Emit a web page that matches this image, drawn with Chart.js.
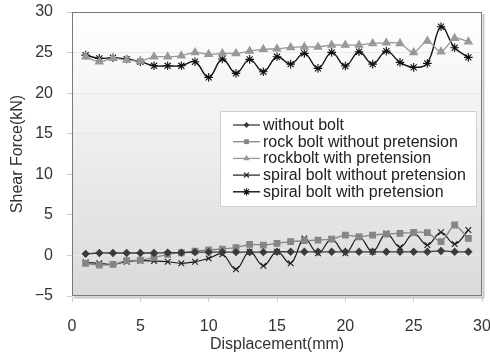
<!DOCTYPE html>
<html>
<head>
<meta charset="utf-8">
<script src="https://cdn.jsdelivr.net/npm/chart.js@4.4.1/dist/chart.umd.min.js"></script>
<style>
  html, body { margin: 0; padding: 0; background: #fff; }
  #wrap { width: 490px; height: 356px; position: relative; }
</style>
</head>
<body>
<div id="wrap"><canvas id="c" width="490" height="356"></canvas></div>
<script>
// ---- data ----
const displacement = [1,2,3,4,5,6,7,8,9,10,11,12,13,14,15,16,17,18,19,20,21,22,23,24,25,26,27,28,29];
const withoutBolt = [0.2,0.3,0.3,0.3,0.3,0.3,0.35,0.35,0.4,0.4,0.4,0.4,0.4,0.4,0.45,0.45,0.45,0.45,0.45,0.45,0.45,0.45,0.45,0.45,0.45,0.45,0.55,0.45,0.45];
const rockBoltNoPre = [-0.97,-1.18,-1.1,-0.65,-0.57,-0.28,0.14,0.33,0.54,0.67,0.79,0.95,1.37,1.28,1.49,1.69,1.81,1.9,2.02,2.51,2.3,2.51,2.64,2.72,2.85,2.8,1.69,3.75,2.1];
const rockBoltPre = [24.48,23.87,24.29,24.08,23.95,24.48,24.48,24.6,25.02,24.78,24.9,24.9,25.18,25.4,25.47,25.64,25.7,25.7,25.92,25.92,25.92,26.13,26.2,26.13,25.02,26.42,25.1,26.75,26.33];
const spiralNoPre = [-0.85,-0.97,-1.1,-0.78,-0.65,-0.69,-0.78,-0.97,-0.78,-0.36,0.14,-1.71,0.46,-1.27,0.46,-0.97,2.1,0.26,2.02,0.26,2.3,0.46,2.72,1.0,2.72,1.28,2.85,1.4,3.13];
const spiralPre = [24.69,24.29,24.36,24.2,23.87,23.37,23.37,23.37,23.87,21.94,24.2,22.44,24.16,22.63,24.48,23.58,24.9,23.05,25.02,23.34,25.1,23.58,25.18,23.79,23.18,23.67,28.18,25.59,24.41];
const seriesNames = ['without bolt','rock bolt without pretension','rockbolt with pretension','spiral bolt without pretension','spiral bolt with pretension'];
const xTicks = [0,5,10,15,20,25,30];
const yTicks = [-5,0,5,10,15,20,25,30];

const FONT = '"Liberation Sans", Arial, sans-serif';
const toXY = arr => arr.map((v, i) => ({x: displacement[i], y: v}));

const styles = [
  {color:'#3a3a3a', pointStyle:'rectRot', radius:3.4, width:1.3, tension:0.2},
  {color:'#858585', pointStyle:'rect', radius:4.0, width:1.3, tension:0.2},
  {color:'#989898', pointStyle:'triangle', radius:4.4, width:1.3, tension:0.3},
  {color:'#1a1a1a', pointStyle:'crossRot', radius:4.0, width:1.2, tension:0.4},
  {color:'#111111', pointStyle:'star', radius:4.3, width:1.4, tension:0.4}
];
const seriesData = [withoutBolt, rockBoltNoPre, rockBoltPre, spiralNoPre, spiralPre];

const datasets = seriesData.map((arr, i) => ({
  label: seriesNames[i],
  data: toXY(arr),
  borderColor: styles[i].color,
  backgroundColor: styles[i].color,
  borderWidth: styles[i].width,
  pointStyle: styles[i].pointStyle,
  pointRadius: styles[i].radius,
  pointBorderWidth: 1.1,
  pointBorderColor: styles[i].color,
  pointBackgroundColor: styles[i].color,
  tension: styles[i].tension,
  fill: false
}));

function drawMarker(ctx, style, x, y, r, color) {
  ctx.save();
  ctx.fillStyle = color; ctx.strokeStyle = color; ctx.lineWidth = 1.1;
  ctx.beginPath();
  if (style === 'rectRot') {
    ctx.moveTo(x, y - r); ctx.lineTo(x + r, y); ctx.lineTo(x, y + r); ctx.lineTo(x - r, y); ctx.closePath(); ctx.fill();
  } else if (style === 'rect') {
    const s = r * Math.SQRT1_2; ctx.rect(x - s, y - s, 2 * s, 2 * s); ctx.fill();
  } else if (style === 'triangle') {
    ctx.moveTo(x, y - r); ctx.lineTo(x + r * 0.866, y + r * 0.5); ctx.lineTo(x - r * 0.866, y + r * 0.5); ctx.closePath(); ctx.fill();
  } else if (style === 'crossRot' || style === 'star') {
    const d = r * Math.SQRT1_2;
    ctx.moveTo(x - d, y - d); ctx.lineTo(x + d, y + d);
    ctx.moveTo(x - d, y + d); ctx.lineTo(x + d, y - d);
    if (style === 'star') { ctx.moveTo(x, y - r); ctx.lineTo(x, y + r); ctx.moveTo(x - r, y); ctx.lineTo(x + r, y); }
    ctx.stroke();
  }
  ctx.restore();
}

const framePlugin = {
  id: 'frame',
  beforeDraw(chart) {
    const {ctx, chartArea: a} = chart;
    ctx.save();
    const g = ctx.createLinearGradient(0, a.top, 0, a.bottom);
    g.addColorStop(0, '#ffffff');
    g.addColorStop(1, '#dadada');
    ctx.fillStyle = g;
    ctx.fillRect(a.left, a.top, a.right - a.left, a.bottom - a.top);
    ctx.restore();
  },
  beforeDatasetsDraw(chart) {
    const {ctx, chartArea: a} = chart;
    ctx.save();
    ctx.strokeStyle = '#c8c8c8'; ctx.lineWidth = 2;
    ctx.beginPath();
    ctx.moveTo(a.right + 1.5, a.top + 2); ctx.lineTo(a.right + 1.5, a.bottom + 1.5); ctx.lineTo(a.left + 2, a.bottom + 1.5);
    ctx.stroke();
    ctx.strokeStyle = '#7a7a7a'; ctx.lineWidth = 1;
    ctx.strokeRect(Math.round(a.left) + 0.5, Math.round(a.top) + 0.5, Math.round(a.right - a.left) - 1, Math.round(a.bottom - a.top) - 1);
    ctx.restore();
  },
  afterDatasetsDraw(chart) {
    const {ctx} = chart;
    const bx = 220, by = 111, bw = 257, bh = 96;
    ctx.save();
    ctx.fillStyle = '#ffffff';
    ctx.fillRect(bx, by, bw, bh);
    ctx.strokeStyle = '#d0d0d0'; ctx.lineWidth = 1;
    ctx.strokeRect(bx + 0.5, by + 0.5, bw - 1, bh - 1);
    ctx.font = '16px ' + FONT;
    ctx.textBaseline = 'middle';
    ctx.textAlign = 'left';
    seriesNames.forEach((name, i) => {
      const y = 125 + i * 16.7;
      const st = styles[i];
      ctx.strokeStyle = st.color; ctx.lineWidth = st.width;
      ctx.beginPath(); ctx.moveTo(233, y); ctx.lineTo(260, y); ctx.stroke();
      drawMarker(ctx, st.pointStyle, 246.5, y, st.radius * 0.85, st.color);
      ctx.fillStyle = '#222';
      ctx.fillText(name, 263, y + 0.5);
    });
    ctx.restore();
  }
};

new Chart(document.getElementById('c'), {
  type: 'line',
  data: { datasets },
  plugins: [framePlugin],
  options: {
    responsive: false,
    animation: false,
    devicePixelRatio: 1,
    layout: { padding: { top: 12, right: 8, left: 0, bottom: 0 } },
    plugins: { legend: { display: false }, tooltip: { enabled: false } },
    scales: {
      x: {
        type: 'linear', min: 0, max: 30,
        afterBuildTicks: s => { s.ticks = xTicks.map(v => ({value: v})); },
        afterFit: s => { s.height = 60; s.paddingLeft = 0; s.paddingRight = 0; },
        ticks: { color: '#333', font: { family: FONT, size: 16 }, padding: 15, maxRotation: 0 },
        grid: { drawOnChartArea: false, tickLength: 6, color: '#cccccc' },
        border: { display: false },
        title: { display: true, text: 'Displacement(mm)', color: '#333', font: { family: FONT, size: 16 }, padding: { top: 0, bottom: 2 } }
      },
      y: {
        min: -5, max: 30,
        afterBuildTicks: s => { s.ticks = yTicks.map(v => ({value: v})); },
        afterFit: s => { s.width = 72; s.paddingTop = 0; s.paddingBottom = 0; },
        ticks: { color: '#333', font: { family: FONT, size: 16 }, padding: 14,
                 callback: v => (v < 0 ? '\u2212' + Math.abs(v) : String(v)) },
        grid: { color: '#e8e8e8', tickLength: 5, tickColor: '#cccccc' },
        border: { display: false },
        title: { display: true, text: 'Shear Force(kN)', color: '#333', font: { family: FONT, size: 16 }, padding: { top: 8, bottom: 0 } }
      }
    }
  }
});
</script>
</body>
</html>
